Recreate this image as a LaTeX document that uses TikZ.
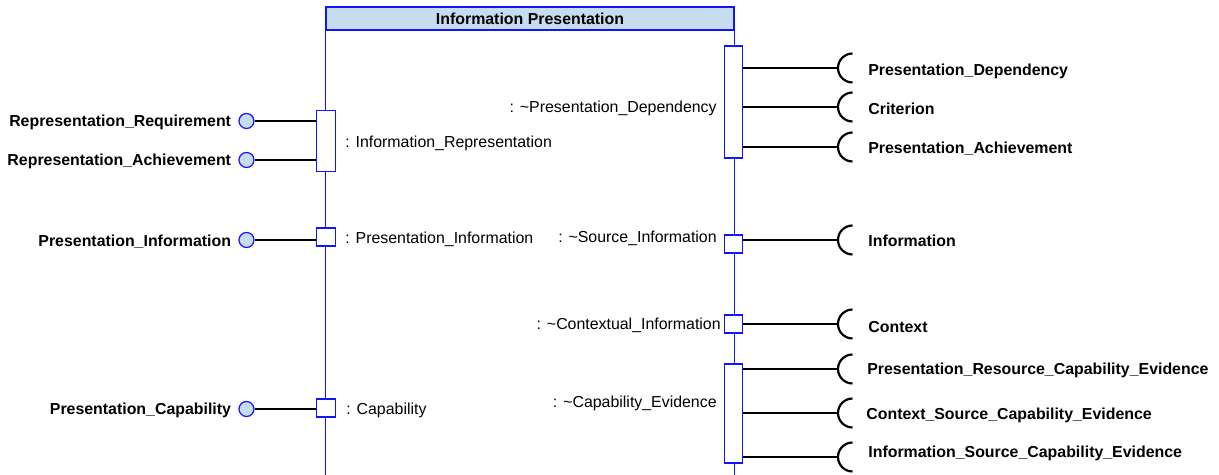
\documentclass[tikz,border=0pt]{standalone}
\usepackage{fontspec}
\setmainfont{Liberation Sans}
\definecolor{umlblue}{RGB}{20,20,250}
\definecolor{umlfill}{RGB}{198,221,240}
\tikzset{
  port/.style={draw=umlblue, fill=white, line width=0.6pt, inner sep=0pt, minimum width=0.37cm},
  ball/.style={circle, draw=umlblue, fill=umlfill, line width=0.7pt, inner sep=0pt, minimum size=0.3cm},
  conn/.style={line width=1.25pt},
  iface/.style={font=\fontsize{9.05}{11}\selectfont\bfseries, inner sep=0pt, yshift=-0.035cm},
  plabel/.style={font=\fontsize{9.05}{11}\selectfont, inner sep=0pt, yshift=-0.035cm},
}
\begin{document}
\begin{tikzpicture}[x=0.02cm,y=-0.02cm]
      \useasboundingbox (0,0) rectangle (1219,475);
      \coordinate (bot) at (0,475);

      % part frame
      \node[draw=umlblue, fill=umlfill, line width=0.7pt, minimum width=8.16cm, minimum height=0.46cm, inner sep=0pt,
            font=\fontsize{9.05}{11}\selectfont\bfseries] (head) at (530,18.5) {Information Presentation};
      \draw[umlblue, line width=0.6pt] (head.south west) -- (head.south west |- bot);
      \draw[umlblue, line width=0.6pt] (head.south east) -- (head.south east |- bot);

      % ports
      \node[port, minimum height=1.22cm] (pRep) at (326,141) {};
      \node[port, minimum height=0.36cm] (pPI) at (326,237) {};
      \node[port, minimum height=0.36cm] (pCap) at (326,408) {};
      \node[port, minimum height=2.24cm] (pDep) at (733.5,102) {};
      \node[port, minimum height=0.36cm] (pSI) at (733.5,244) {};
      \node[port, minimum height=0.36cm] (pCI) at (733.5,324) {};
      \node[port, minimum height=1.98cm] (pCE) at (733.5,413.5) {};

      \node[plabel, anchor=west] (lRep) at (345,142) {: Information\_Representation};
      \node[plabel, anchor=west] (lPI) at (345,238) {: Presentation\_Information};
      \node[plabel, anchor=west] (lCap) at (346,409) {: Capability};
      \node[plabel, anchor=east] (lDep) at (717,107) {: \textasciitilde Presentation\_Dependency};
      \node[plabel, anchor=east] (lSI) at (717,237) {: \textasciitilde Source\_Information};
      \node[plabel, anchor=east] (lCI) at (721,324) {: \textasciitilde Contextual\_Information};
      \node[plabel, anchor=east] (lCE) at (717,402) {: \textasciitilde Capability\_Evidence};

      % provided interfaces
      \node[ball] (bRR) at (246.5,121) {};
      \node[ball] (bRA) at (246.5,160) {};
      \node[ball] (bPI) at (246.5,240) {};
      \node[ball] (bPC) at (246.5,409) {};
      \node[iface, anchor=east] at (bRR.west) [xshift=-0.14cm] {Representation\_Requirement};
      \node[iface, anchor=east] at (bRA.west) [xshift=-0.14cm] {Representation\_Achievement};
      \node[iface, anchor=east] at (bPI.west) [xshift=-0.14cm] {Presentation\_Information};
      \node[iface, anchor=east] at (bPC.west) [xshift=-0.14cm] {Presentation\_Capability};
      \draw[conn] (bRR) -- (bRR -| pRep.west);
      \draw[conn] (bRA) -- (bRA -| pRep.west);
      \draw[conn] (bPI) -- (bPI -| pPI.west);
      \draw[conn] (bPC) -- (bPC -| pCap.west);

      % required interfaces
      \coordinate (sPD) at (838,68);
      \coordinate (sCr) at (838,107);
      \coordinate (sPA) at (838,147);
      \coordinate (sIn) at (838,240);
      \coordinate (sCo) at (838,324);
      \coordinate (sPR) at (838,369);
      \coordinate (sCS) at (838,413);
      \coordinate (sIS) at (838,457);
      \draw[conn] (pDep.east |- sPD) -- (sPD);
      \draw[conn] (pDep.east |- sCr) -- (sCr);
      \draw[conn] (pDep.east |- sPA) -- (sPA);
      \draw[conn] (pSI.east |- sIn) -- (sIn);
      \draw[conn] (pCI.east |- sCo) -- (sCo);
      \draw[conn] (pCE.east |- sPR) -- (sPR);
      \draw[conn] (pCE.east |- sCS) -- (sCS);
      \draw[conn] (pCE.east |- sIS) -- (sIS);
      \foreach \s in {sPD,sCr,sPA,sIn,sCo,sPR,sCS,sIS}
        \draw[conn] (\s) ++(0.29cm,0.29cm) arc[start angle=90, end angle=270, radius=0.29cm];

      \node[iface, anchor=west] at (868,70) {Presentation\_Dependency};
      \node[iface, anchor=west] at (868,107) {Criterion};
      \node[iface, anchor=west] at (868,147) {Presentation\_Achievement};
      \node[iface, anchor=west] at (868,239) {Information};
      \node[iface, anchor=west] at (868,325) {Context};
      \node[iface, anchor=west] at (867,369) {Presentation\_Resource\_Capability\_Evidence};
      \node[iface, anchor=west] at (866,414) {Context\_Source\_Capability\_Evidence};
      \node[iface, anchor=west] at (868,452) {Information\_Source\_Capability\_Evidence};
\end{tikzpicture}
\end{document}
